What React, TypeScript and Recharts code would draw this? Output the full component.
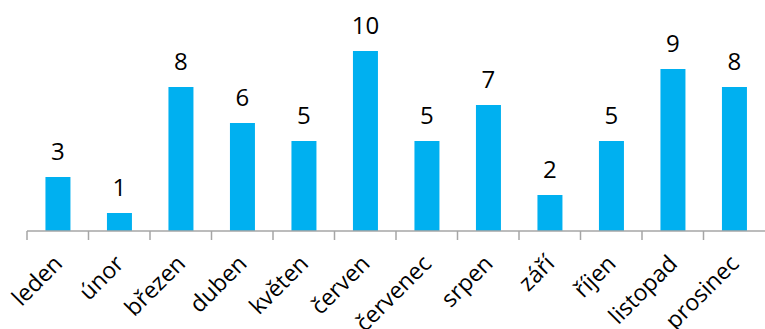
import { Bar, BarChart, LabelList, XAxis, YAxis } from 'recharts'

const months = [
  'leden',
  'únor',
  'březen',
  'duben',
  'květen',
  'červen',
  'červenec',
  'srpen',
  'září',
  'říjen',
  'listopad',
  'prosinec',
]
const counts = [3, 1, 8, 6, 5, 10, 5, 7, 2, 5, 9, 8]

const data = months.map((name, i) => ({ name, value: counts[i] }))

const FONT = '"Open Sans", sans-serif'
const BAND = 738 / 12

function MonthTick(props: any) {
  const { x, y, payload } = props
  return (
    <g>
      <line x1={x - BAND / 2} y1={231} x2={x - BAND / 2} y2={240} stroke='#A6A6A6' strokeWidth={1.5} />
      <text
        x={x + 6}
        y={y + 26}
        transform={`rotate(-45, ${x + 6}, ${y + 26})`}
        textAnchor='end'
        fill='#000'
        fontSize={23}
        fontFamily={FONT}
      >
        {payload.value}
      </text>
    </g>
  )
}

export default function App() {
  return (
    <div style={{ position: 'absolute', left: 0, top: 0, background: '#fff' }}>
      <BarChart
        width={765}
        height={329}
        data={data}
        margin={{ top: 51, right: 0, left: 27, bottom: 0 }}
        barCategoryGap='30%'
      >
        <XAxis
          dataKey='name'
          interval={0}
          tickLine={false}
          axisLine={{ stroke: '#A6A6A6', strokeWidth: 1.5 }}
          tick={<MonthTick />}
          height={98}
        />
        <YAxis hide domain={[0, 10]} />
        <Bar dataKey='value' fill='#00B0F0' isAnimationActive={false}>
          <LabelList
            dataKey='value'
            position='top'
            offset={17}
            fill='#000'
            fontSize={24}
            fontFamily={FONT}
          />
        </Bar>
      </BarChart>
    </div>
  )
}
